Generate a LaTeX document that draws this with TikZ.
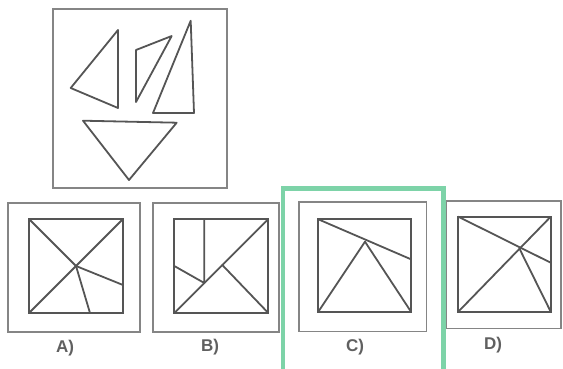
\documentclass[tikz,border=0pt]{standalone}
\usepackage{fontspec}
\setmainfont{Liberation Sans}
\definecolor{ink}{HTML}{555555}
\definecolor{frame}{HTML}{858585}
\definecolor{mint}{HTML}{7DD3A8}
\definecolor{lbl}{HTML}{606060}
\begin{document}
\begin{tikzpicture}[x=1pt,y=-1pt,
  shape line/.style={draw=ink,line width=1.8pt,line join=round,line cap=round},
  outer box/.style={draw=frame,line width=1.3pt},
  inner box/.style={draw=ink,line width=1.8pt},
  optlabel/.style={font=\fontsize{17}{17}\selectfont\bfseries,text=lbl,inner sep=0pt}]
\useasboundingbox (0,0) rectangle (563,369);
% top panel
\draw[outer box] (53,9) rectangle (227,188);
\draw[shape line] (70.7,88) -- (118,30) -- (118,108) -- cycle;
\draw[shape line] (136,50) -- (171.7,36) -- (136,102) -- cycle;
\draw[shape line] (190.7,20.7) -- (194,113) -- (153,113) -- cycle;
\draw[shape line] (83,120.7) -- (176.7,122.7) -- (129,180) -- cycle;
% option A
\draw[outer box] (8,203) rectangle (140,332);
\draw[inner box] (29,219) rectangle (123,313);
\coordinate (aTL) at (29,219); \coordinate (aTR) at (123,219);
\coordinate (aBL) at (29,313); \coordinate (aC) at (76,266);
\coordinate (aR) at (123,285); \coordinate (aB) at (90,313);
\draw[shape line] (aBL) -- (aTR);
\draw[shape line] (aTL) -- (aC) -- (aR);
\draw[shape line] (aC) -- (aB);
\node[optlabel] (la) at (65,348) {A)};
% option B
\draw[outer box] (153,203) rectangle (279,332);
\draw[inner box] (174.3,219) rectangle (268.3,313);
\coordinate (bBL) at (174.3,313); \coordinate (bTR) at (268.3,219);
\coordinate (bV) at (204.3,219); \coordinate (bVd) at (204.3,283);
\coordinate (bL) at (174.3,266); \coordinate (bM) at (222.3,265);
\coordinate (bBR) at (268.3,313);
\draw[shape line] (bBL) -- (bTR);
\draw[shape line] (bV) -- (bVd) -- (bL);
\draw[shape line] (bM) -- (bBR);
\node[optlabel] (lb) at (210,347) {B)};
% option C
\draw[outer box] (299,202) rectangle (426.7,331.7);
\draw[inner box] (318.3,219.3) rectangle (411,311.7);
\coordinate (cTL) at (318.3,219.3); \coordinate (cR) at (411,259.3);
\coordinate (cA) at (365,241.7); \coordinate (cBL) at (318.3,311.7);
\coordinate (cBR) at (411,311.7);
\draw[shape line] (cTL) -- (cR);
\draw[shape line] (cBL) -- (cA) -- (cBR);
\node[optlabel] (lc) at (355,347) {C)};
\draw[draw=mint,line width=4.5pt] (283,188.5) rectangle (443.5,372);
% option D
\draw[outer box] (446.7,201) rectangle (561,328.3);
\draw[inner box] (458.3,216.7) rectangle (550.7,311.7);
\coordinate (dTL) at (458.3,216.7); \coordinate (dR) at (550.7,262.7);
\coordinate (dBL) at (458.3,311.7); \coordinate (dTR) at (550.7,216.7);
\coordinate (dX) at (519.3,248.3); \coordinate (dBR) at (550.7,311.7);
\draw[shape line] (dTL) -- (dR);
\draw[shape line] (dBL) -- (dTR);
\draw[shape line] (dX) -- (dBR);
\node[optlabel] (ld) at (493,345) {D)};
\end{tikzpicture}
\end{document}
